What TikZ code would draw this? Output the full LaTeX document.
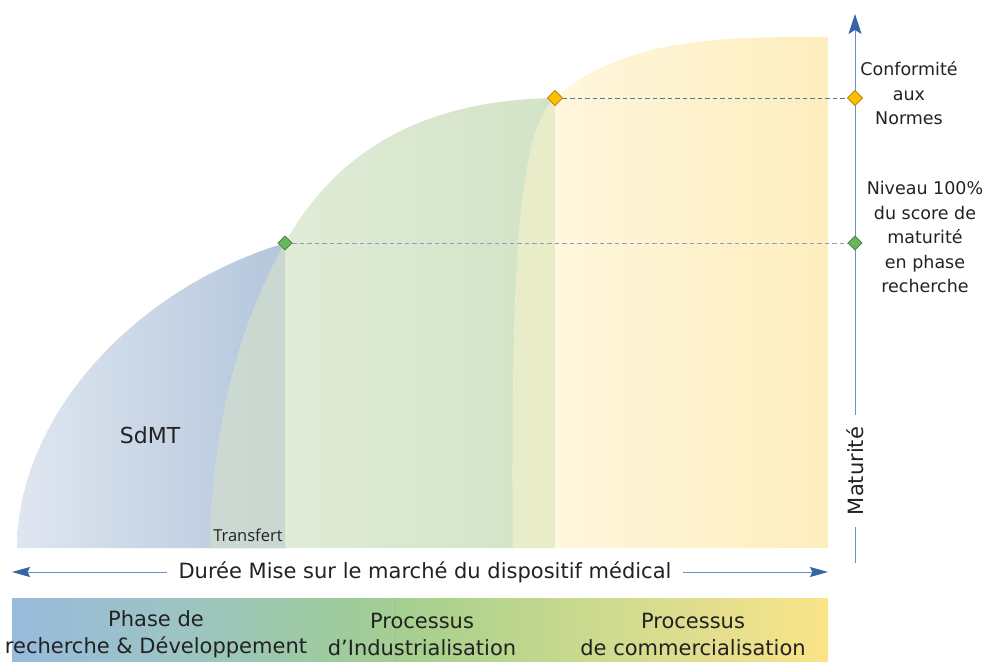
\documentclass[tikz,border=0pt]{standalone}
\usepackage{fontspec}
\setmainfont{DejaVu Sans}
\newfontfamily\transfont{Open Sans}
\usetikzlibrary{arrows.meta,shapes.geometric}
\definecolor{bluel}{HTML}{DFE6F0}
\definecolor{bluer}{HTML}{B4C6DC}
\definecolor{mixl}{HTML}{CBD9D2}
\definecolor{mixr}{HTML}{C2D4CB}
\definecolor{greenl}{HTML}{E5EEDC}
\definecolor{greenr}{HTML}{D2E3C6}
\definecolor{gymix}{HTML}{E8ECC9}
\definecolor{yelll}{HTML}{FFF8E2}
\definecolor{yellr}{HTML}{FDEEBE}
\definecolor{axisblue}{HTML}{6A8FC8}
\definecolor{tipblue}{HTML}{3564A8}
\definecolor{dashg}{HTML}{8AA0B8}
\definecolor{dasho}{HTML}{56759F}
\definecolor{dgreen}{HTML}{6DB45E}
\definecolor{dgreenb}{HTML}{3F8A3A}
\definecolor{dorange}{HTML}{FFBE00}
\definecolor{dorangeb}{HTML}{C08A10}
\definecolor{bA}{HTML}{98BADC}
\definecolor{bB}{HTML}{9CC4C4}
\definecolor{bC}{HTML}{9ECB9E}
\definecolor{bD}{HTML}{A8D08E}
\definecolor{bE}{HTML}{CADA8E}
\definecolor{bF}{HTML}{E2DE8E}
\definecolor{bG}{HTML}{FAE488}
\definecolor{txt}{HTML}{222222}
\pgfdeclarehorizontalshading{barshade}{100bp}{color(0bp)=(bA); color(25bp)=(bA); color(35bp)=(bB); color(45bp)=(bC); color(50bp)=(bD); color(60bp)=(bE); color(67.5bp)=(bF); color(75bp)=(bG); color(100bp)=(bG)}
\tikzset{
  bluepath/.style={insert path={(17,548) .. controls (17,420) and (130,290) .. (285,243) -- (285,548) -- cycle}},
  greenpath/.style={insert path={(210,548) .. controls (213,410) and (245,315) .. (285,243) .. controls (335,153) and (420,100) .. (555,98) -- (555,548) -- cycle}},
  yellpath/.style={insert path={(513,548) .. controls (511,250) and (520,130) .. (555,98) .. controls (615,45) and (700,37) .. (800,37) -- (828,37) -- (828,548) -- cycle}},
  big/.style={font=\fontsize{21}{27}\selectfont, text=txt},
  lbl/.style={font=\fontsize{17.5}{24.5}\selectfont, text=txt, align=center},
  dashline/.style={dash pattern=on 4.5pt off 3pt, line width=1pt},
  gdiam/.style={diamond, draw=dgreenb, fill=dgreen, minimum size=14pt, inner sep=0pt, line width=0.6pt},
  odiam/.style={diamond, draw=dorangeb, fill=dorange, minimum size=15pt, inner sep=0pt, line width=0.6pt},
  axisline/.style={draw=axisblue, line width=1pt},
}
\begin{document}
\begin{tikzpicture}[x=1pt,y=-1pt]
\useasboundingbox (0,0) rectangle (987,661);
% regions
\shade[left color=bluel, right color=bluer, bluepath];
\shade[left color=greenl, right color=greenr, greenpath];
\begin{scope}
\clip[bluepath];
\shade[left color=mixl, right color=mixr, greenpath];
\end{scope}
\shade[left color=yelll, right color=yellr, yellpath];
\begin{scope}
\clip[greenpath];
\fill[gymix, yellpath];
\end{scope}
% labels in regions
\node[font=\fontsize{22}{24}\selectfont, text=txt] (sdmt) at (150,435) {SdMT};
\node[font=\transfont\fontsize{16.5}{18}\selectfont, text=txt] (transfert) at (248,535) {Transfert};
% diamonds and dashed lines
\node[gdiam] (g1) at (285,243) {};
\node[gdiam] (g2) at (855,243) {};
\node[odiam] (o1) at (555,98) {};
\node[odiam] (o2) at (855,98) {};
% vertical axis
\coordinate (ybot) at (855,563);
\coordinate (ytop) at (855,14);
\draw[axisline, -{Stealth[length=20pt,width=13pt,inset=4pt,color=tipblue]}] (ybot) -- (ytop);
\node[big, rotate=90, fill=white, inner xsep=12pt, inner ysep=1pt] (mat) at (855,471) {Maturité};
\draw[dashline, draw=dashg] (g1) -- (g2);
\draw[dashline, draw=dasho] (o1) -- (o2);
\node[gdiam] at (g2) {};
\node[odiam] at (o2) {};
\node[gdiam] at (g1) {};
\node[odiam] at (o1) {};
% right labels
\node[lbl] (conf) at (909,93.5) {Conformité\\aux\\Normes};
\node[lbl] (niv) at (925,237) {Niveau 100\%\\du score de\\maturité\\en phase\\recherche};
% horizontal axis
\coordinate (xl) at (12,572);
\coordinate (xr) at (828,572);
\draw[axisline, {Stealth[length=18pt,width=10pt,inset=2.5pt,color=tipblue]}-{Stealth[length=18pt,width=10pt,inset=2.5pt,color=tipblue]}] (xl) -- (xr);
\node[big, fill=white, inner xsep=12pt, inner ysep=1pt] (duree) at (425,572) {Durée Mise sur le marché du dispositif médical};
% bottom bar
\shade[shading=barshade] (12,598) rectangle (828,661);
\draw[draw=bD!85!black, opacity=0.35, line width=0.8pt] (395.5,598) -- (395.5,661);
\node[big, align=center] (p1) at (156,634) {Phase de\\recherche \& Développement};
\node[big, align=center] (p2) at (422,634) {Processus\\d’Industrialisation};
\node[big, align=center] (p3) at (693,634) {Processus\\de commercialisation};
\end{tikzpicture}
\end{document}
